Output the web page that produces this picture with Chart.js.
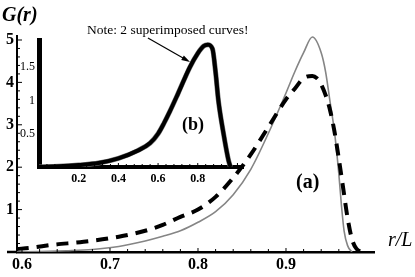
<!DOCTYPE html>
<html>
<head>
<meta charset="utf-8">
<script src="https://cdn.jsdelivr.net/npm/chart.js@4.4.1/dist/chart.umd.min.js"></script>
<style>
html, body { margin: 0; padding: 0; background: #fff; }
#wrap { position: relative; width: 415px; height: 277px; }
#wrap canvas { position: absolute; left: 0; top: 0; }
</style>
</head>
<body>
<div id="wrap">
  <canvas id="main" width="415" height="277"></canvas>
  <canvas id="inset" width="415" height="277"></canvas>
</div>
<script>
// panel (a) - solid grey curve
const rSolid = [0.594, 0.62, 0.65, 0.68, 0.71, 0.74, 0.76, 0.78, 0.80, 0.82, 0.84, 0.86, 0.88, 0.90, 0.91, 0.92, 0.93, 0.94, 0.945, 0.95, 0.955, 0.96, 0.963, 0.966, 0.97, 0.975];
const gSolid = [0, 0.01, 0.03, 0.06, 0.13, 0.26, 0.37, 0.5, 0.7, 0.95, 1.35, 1.95, 2.8, 3.75, 4.25, 4.7, 5.07, 4.7, 4.25, 3.55, 2.85, 1.85, 1.1, 0.5, 0.15, 0];

// panel (a) - dashed black curve
const rDashed = [0.594, 0.61, 0.635, 0.67, 0.71, 0.74, 0.76, 0.78, 0.80, 0.82, 0.84, 0.86, 0.88, 0.90, 0.91, 0.92, 0.93, 0.935, 0.94, 0.945, 0.95, 0.955, 0.96, 0.965, 0.97, 0.975, 0.98, 0.988];
const gDashed = [0.07, 0.1, 0.17, 0.24, 0.36, 0.5, 0.64, 0.83, 1.0, 1.3, 1.75, 2.3, 2.95, 3.6, 3.85, 4.1, 4.15, 4.1, 3.95, 3.7, 3.35, 2.85, 2.2, 1.5, 0.8, 0.3, 0.08, 0];

// panel (b) - inset, two superimposed curves
const rInset = [0, 0.1, 0.2, 0.3, 0.4, 0.5, 0.56, 0.6, 0.63, 0.66, 0.7, 0.76, 0.8, 0.83, 0.85, 0.874, 0.89, 0.904, 0.93, 0.955, 0.965];
const gInset = [0, 0.01, 0.03, 0.06, 0.13, 0.25, 0.36, 0.5, 0.66, 0.84, 1.1, 1.5, 1.71, 1.82, 1.84, 1.78, 1.42, 1.0, 0.5, 0.1, 0];

// tick labels
const mainXTicks = [0.6, 0.7, 0.8, 0.9];
const mainYTicks = [1, 2, 3, 4, 5];
const insetXTicks = [0.2, 0.4, 0.6, 0.8];
const insetYTicks = [0.5, 1, 1.5];

// arrow of the note, in inset data units
const noteFrom = [0.549, 1.94];
const noteTo = [0.761, 1.58];

const serif = "'Liberation Serif', 'DejaVu Serif', serif";

function pts(xs, ys) {
    return xs.map((x, i) => ({ x: x, y: ys[i] }));
}

function fixedTicks(values) {
    return function (scale) {
        scale.ticks = values.map(v => ({ value: v }));
    };
}

// inward tick marks
function tickMarks(ctx, scale, from, to, step, major, lenMinor, lenMajor, width) {
    const area = scale.chart.chartArea;
    ctx.save();
    ctx.strokeStyle = "#000";
    ctx.lineWidth = width;
    const n = Math.round((to - from) / step);
    for (let i = 0; i <= n; i++) {
        const v = from + i * step;
        const isMajor = Math.abs(v / major - Math.round(v / major)) < 1e-6;
        const len = isMajor ? lenMajor : lenMinor;
        const p = scale.getPixelForValue(v);
        ctx.beginPath();
        if (scale.isHorizontal()) {
            ctx.moveTo(p, area.bottom);
            ctx.lineTo(p, area.bottom - len);
        } else {
            ctx.moveTo(area.left, p);
            ctx.lineTo(area.left + len, p);
        }
        ctx.stroke();
    }
    ctx.restore();
}

const mainDecor = {
    id: "mainDecor",
    afterDraw(chart) {
        const ctx = chart.ctx;
        const area = chart.chartArea;
        tickMarks(ctx, chart.scales.x, 0.6, 0.98, 0.02, 0.1, 3, 4, 1);
        tickMarks(ctx, chart.scales.y, 0.2, 5, 0.2, 1, 3, 5, 1);

        // axis line continues a little left of the y axis
        ctx.save();
        ctx.strokeStyle = "#000";
        ctx.lineWidth = 2.5;
        ctx.beginPath();
        ctx.moveTo(area.left - 10, area.bottom);
        ctx.lineTo(area.left, area.bottom);
        ctx.stroke();

        ctx.fillStyle = "#000";
        ctx.textBaseline = "alphabetic";
        ctx.textAlign = "left";
        ctx.font = "italic bold 20px " + serif;
        ctx.fillText("G(r)", 2, 21);
        ctx.font = "italic 20px " + serif;
        ctx.fillText("r/L", 388, 246);
        ctx.font = "bold 20px " + serif;
        ctx.fillText("(a)", 296, 188);
        ctx.restore();
    }
};

const insetDecor = {
    id: "insetDecor",
    afterDraw(chart) {
        const ctx = chart.ctx;
        const xs = chart.scales.x;
        const ys = chart.scales.y;
        tickMarks(ctx, xs, 0.04, 1.0, 0.04, 0.2, 3, 4, 1);

        ctx.save();
        ctx.fillStyle = "#000";
        ctx.textAlign = "left";
        ctx.textBaseline = "alphabetic";
        ctx.font = "bold 18px " + serif;
        ctx.fillText("(b)", 182, 130);
        ctx.font = "13.5px " + serif;
        ctx.fillText("Note: 2 superimposed curves!", 87, 34);

        // arrow
        const x0 = xs.getPixelForValue(noteFrom[0]);
        const y0 = ys.getPixelForValue(noteFrom[1]);
        const x1 = xs.getPixelForValue(noteTo[0]);
        const y1 = ys.getPixelForValue(noteTo[1]);
        const ang = Math.atan2(y1 - y0, x1 - x0);
        ctx.strokeStyle = "#000";
        ctx.lineWidth = 1.2;
        ctx.beginPath();
        ctx.moveTo(x0, y0);
        ctx.lineTo(x1 - 5 * Math.cos(ang), y1 - 5 * Math.sin(ang));
        ctx.stroke();
        ctx.beginPath();
        ctx.moveTo(x1, y1);
        ctx.lineTo(x1 - 9 * Math.cos(ang - 0.3), y1 - 9 * Math.sin(ang - 0.3));
        ctx.lineTo(x1 - 9 * Math.cos(ang + 0.3), y1 - 9 * Math.sin(ang + 0.3));
        ctx.closePath();
        ctx.fill();
        ctx.restore();
    }
};

Chart.defaults.animation = false;
Chart.defaults.devicePixelRatio = 1;

new Chart(document.getElementById("main"), {
    type: "line",
    data: {
        datasets: [
            {
                label: "dashed",
                data: pts(rDashed, gDashed),
                borderColor: "#000",
                borderWidth: 4,
                borderDash: [12, 8],
                pointRadius: 0,
                cubicInterpolationMode: "monotone",
                fill: false
            },
            {
                label: "solid",
                data: pts(rSolid, gSolid),
                borderColor: "#858585",
                borderWidth: 1.6,
                pointRadius: 0,
                cubicInterpolationMode: "monotone",
                fill: false
            }
        ]
    },
    options: {
        responsive: false,
        layout: { padding: { top: 36, right: 41, left: 0, bottom: 0 } },
        plugins: { legend: { display: false }, tooltip: { enabled: false } },
        scales: {
            x: {
                type: "linear",
                min: 0.59432,
                max: 1.0,
                afterBuildTicks: fixedTicks(mainXTicks),
                afterFit: s => { s.height = 25; },
                grid: { display: false, drawTicks: false },
                border: { display: true, color: "#000", width: 2.5 },
                ticks: {
                    color: "#000",
                    padding: 3,
                    font: { family: serif, size: 16, weight: "bold" },
                    callback: v => v.toFixed(1)
                }
            },
            y: {
                type: "linear",
                min: 0,
                max: 5.094,
                afterBuildTicks: fixedTicks(mainYTicks),
                afterFit: s => { s.width = 17; },
                grid: { display: false, drawTicks: false },
                border: { display: true, color: "#000", width: 2 },
                ticks: {
                    color: "#000",
                    padding: 3,
                    font: { family: serif, size: 16, weight: "bold" }
                }
            }
        }
    },
    plugins: [mainDecor]
});

new Chart(document.getElementById("inset"), {
    type: "line",
    data: {
        datasets: [
            {
                label: "curve 1",
                data: pts(rInset, gInset),
                borderColor: "#000",
                borderWidth: 4,
                pointRadius: 0,
                cubicInterpolationMode: "monotone",
                fill: false
            },
            {
                label: "curve 2",
                data: pts(rInset, gInset),
                borderColor: "#777",
                borderWidth: 5,
                pointRadius: 0,
                cubicInterpolationMode: "monotone",
                fill: false
            }
        ]
    },
    options: {
        responsive: false,
        layout: { padding: { top: 40, right: 172, left: 0, bottom: 0 } },
        plugins: { legend: { display: false }, tooltip: { enabled: false } },
        scales: {
            x: {
                type: "linear",
                min: 0,
                max: 1.028,
                afterBuildTicks: fixedTicks(insetXTicks),
                afterFit: s => { s.height = 110; },
                grid: { display: false, drawTicks: false },
                border: { display: true, color: "#000", width: 4 },
                ticks: {
                    color: "#000",
                    padding: 5,
                    font: { family: serif, size: 12, weight: "bold" },
                    callback: v => v.toFixed(1)
                }
            },
            y: {
                type: "linear",
                min: 0,
                max: 1.91,
                afterBuildTicks: fixedTicks(insetYTicks),
                afterFit: s => { s.width = 39; },
                grid: { display: false, drawTicks: false },
                border: { display: true, color: "#000", width: 5 },
                ticks: {
                    color: "#000",
                    padding: 4,
                    font: { family: serif, size: 12 },
                    callback: v => String(v)
                }
            }
        }
    },
    plugins: [insetDecor]
});
</script>
</body>
</html>
